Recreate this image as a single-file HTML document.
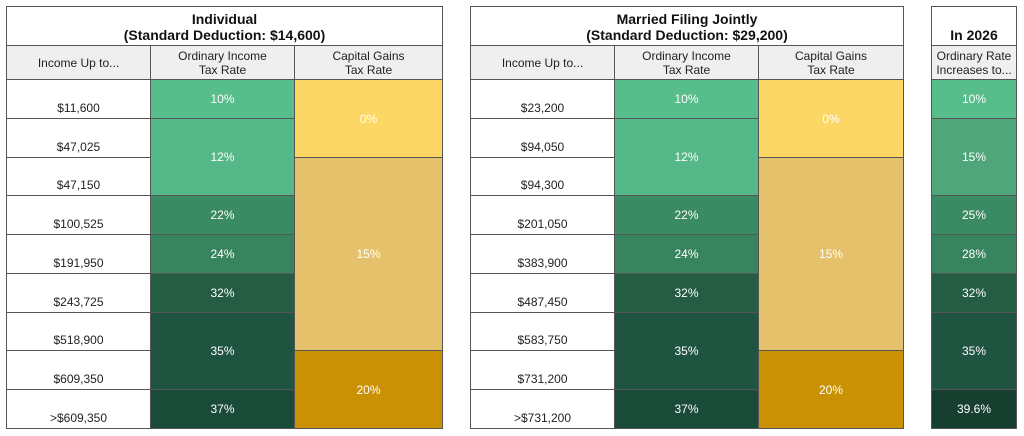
<!DOCTYPE html>
<html><head><meta charset="utf-8">
<style>
body{margin:0;width:1024px;height:436px;background:#fff;font-family:"Liberation Sans",sans-serif;position:relative;overflow:hidden}
.c{position:absolute;box-sizing:border-box;border:1px solid #555;display:flex;align-items:center;justify-content:center;text-align:center;font-size:12px;color:#222;line-height:14px}
.t{font-weight:bold;font-size:14px;line-height:16px;align-items:flex-end;padding-bottom:2px;color:#111}
.h{background:#efefef}
.inc{align-items:flex-end;padding-bottom:3px}
.w{color:#fff}
</style></head><body>
<script>
const rowsTop=79, rowH=38.78;
const indIncome=["$11,600","$47,025","$47,150","$100,525","$191,950","$243,725","$518,900","$609,350",">$609,350"];
const mfjIncome=["$23,200","$94,050","$94,300","$201,050","$383,900","$487,450","$583,750","$731,200",">$731,200"];
// [label, startRow, span, color]
const ordRates=[["10%",0,1,"#57bd8a"],["12%",1,2,"#55b888"],["22%",3,1,"#3a8a63"],["24%",4,1,"#38845e"],["32%",5,1,"#245c44"],["35%",6,2,"#1f5440"],["37%",8,1,"#1a4a38"]];
const capRates=[["0%",0,2,"#fdd766"],["15%",2,5,"#e5c16b"],["20%",7,2,"#c99103"]];
const rates2026=[["10%",0,1,"#57bd8a"],["15%",1,2,"#4ea67a"],["25%",3,1,"#3a8a63"],["28%",4,1,"#38845e"],["32%",5,1,"#245c44"],["35%",6,2,"#1f5440"],["39.6%",8,1,"#163f30"]];

function cell(x,y,w,h,html,cls,name){
  const d=document.createElement('div');
  d.className='c '+(cls||'');
  d.style.left=x+'px';d.style.top=y+'px';d.style.width=(w+1)+'px';d.style.height=(h+1)+'px';
  d.innerHTML=html;
  
  
  document.body.appendChild(d);return d;
}
function ry(i){return Math.round(rowsTop+i*rowH);}
function table(x0,cols,title,income,prefix){
  const total=cols[cols.length-1]-x0;
  cell(x0,6,total,39,title,'t',prefix+'-title');
  const heads=["Income Up to...","Ordinary Income<br>Tax Rate","Capital Gains<br>Tax Rate"];
  for(let i=0;i<3;i++) cell(cols[i],45,cols[i+1]-cols[i],34,heads[i],'h',prefix+'-header-'+i);
  income.forEach((v,i)=>cell(cols[0],ry(i),cols[1]-cols[0],ry(i+1)-ry(i),v,'inc',prefix+'-income-row'));
  ordRates.forEach(r=>{const d=cell(cols[1],ry(r[1]),cols[2]-cols[1],ry(r[1]+r[2])-ry(r[1]),r[0],'w',prefix+'-ordinary-rate');d.style.background=r[3];});
  capRates.forEach(r=>{const d=cell(cols[2],ry(r[1]),cols[3]-cols[2],ry(r[1]+r[2])-ry(r[1]),r[0],'w',prefix+'-capital-gains-rate');d.style.background=r[3];});
}
table(6,[6,150,294,442],"Individual<br>(Standard Deduction: $14,600)",indIncome,'individual');
table(470,[470,614,758,903],"Married Filing Jointly<br>(Standard Deduction: $29,200)",mfjIncome,'married');
cell(931,6,85,39,"In 2026",'t','2026-title');
cell(931,45,85,34,"Ordinary Rate<br>Increases to...",'h','2026-header');
rates2026.forEach(r=>{const d=cell(931,ry(r[1]),85,ry(r[1]+r[2])-ry(r[1]),r[0],'w','2026-rate');d.style.background=r[3];});
</script>
</body></html>
